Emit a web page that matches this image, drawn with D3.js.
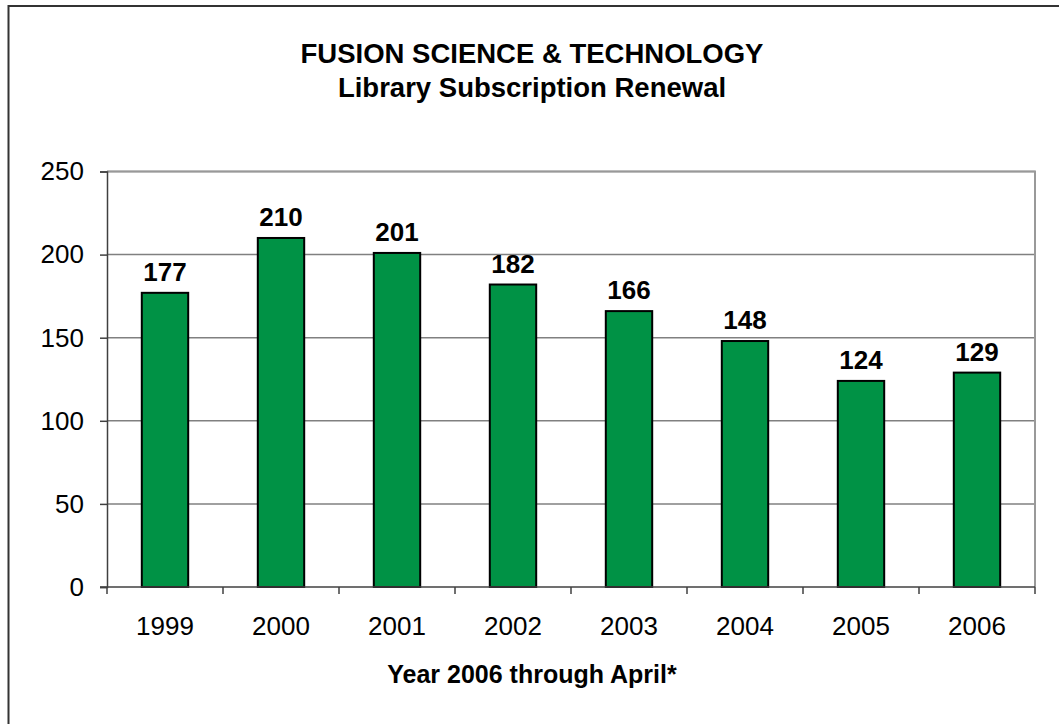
<!DOCTYPE html>
<html>
<head>
<meta charset="utf-8">
<script src="https://cdn.jsdelivr.net/npm/d3@7"></script>
<style>
  body { margin: 0; background: #fff; }
  svg { display: block; font-family: Arial, "Liberation Sans", sans-serif; }
</style>
</head>
<body>
<svg id="chart"></svg>
<script>
// chart data
const years = ["1999", "2000", "2001", "2002", "2003", "2004", "2005", "2006"];
const renewals = [177, 210, 201, 182, 166, 148, 124, 129];
const yTicks = [0, 50, 100, 150, 200, 250];
const titleLines = ["FUSION SCIENCE & TECHNOLOGY", "Library Subscription Renewal"];
const xTitle = "Year 2006 through April*";

const width = 1059;
const height = 724;
const margin = { top: 171.5, right: 24, bottom: 137, left: 107 };

const svg = d3.select('#chart')
    .attr('width', width)
    .attr('height', height);

// outer chart border (only top/left visible in frame)
svg.append('rect')
    .attr('x', 8.5).attr('y', 6)
    .attr('width', width + 20).attr('height', height + 20)
    .attr('fill', 'none')
    .attr('stroke', '#333')
    .attr('stroke-width', 2);

const xBand = d3.scaleBand()
    .domain(years)
    .range([margin.left, width - margin.right]);

const y = d3.scaleLinear()
    .domain([0, 250])
    .range([height - margin.bottom, margin.top]);

// gridlines
svg.append('g')
    .selectAll('line')
    .data(yTicks.filter(d => d > 0))
    .join('line')
    .attr('x1', margin.left)
    .attr('x2', width - margin.right)
    .attr('y1', d => y(d))
    .attr('y2', d => y(d))
    .attr('stroke', '#808080')
    .attr('stroke-width', 1.5);

// right + top border of plot area
svg.append('line')
    .attr('x1', width - margin.right)
    .attr('x2', width - margin.right)
    .attr('y1', y(250))
    .attr('y2', y(0))
    .attr('stroke', '#999')
    .attr('stroke-width', 2);
svg.append('line')
    .attr('x1', margin.left)
    .attr('x2', width - margin.right + 1)
    .attr('y1', y(250))
    .attr('y2', y(250))
    .attr('stroke', '#999')
    .attr('stroke-width', 2);

// bars
svg.append('g')
    .selectAll('rect')
    .data(renewals)
    .join('rect')
    .attr('x', (d, i) => xBand(years[i]) + xBand.bandwidth() * 0.3)
    .attr('width', xBand.bandwidth() * 0.4)
    .attr('y', d => y(d))
    .attr('height', d => y(0) - y(d))
    .attr('fill', '#009245')
    .attr('stroke', '#000')
    .attr('stroke-width', 2);

// value labels
svg.append('g')
    .selectAll('text')
    .data(renewals)
    .join('text')
    .attr('x', (d, i) => xBand(years[i]) + xBand.bandwidth() / 2)
    .attr('y', d => y(d) - 12)
    .attr('text-anchor', 'middle')
    .attr('font-size', 26)
    .attr('font-weight', 'bold')
    .text(d => d);

// y axis
const yAxis = svg.append('g')
    .attr('transform', `translate(${margin.left},0)`)
    .call(d3.axisLeft(y).tickValues(yTicks).tickSize(7).tickPadding(16));
yAxis.select('.domain').attr('stroke', '#404040').attr('stroke-width', 1.5);
yAxis.selectAll('.tick line').attr('stroke', '#404040').attr('stroke-width', 1.5);
yAxis.selectAll('text')
    .attr('font-size', 26)
    .attr('fill', '#000')
    .attr('font-family', 'Arial, "Liberation Sans", sans-serif');

// x axis with boundary ticks
const xAxisG = svg.append('g')
    .attr('transform', `translate(0,${y(0)})`);
xAxisG.append('line')
    .attr('x1', margin.left - 7)
    .attr('x2', width - margin.right)
    .attr('stroke', '#404040')
    .attr('stroke-width', 1.5);
xAxisG.selectAll('line.sep')
    .data(years.map(d => xBand(d)).concat([width - margin.right]))
    .join('line')
    .attr('class', 'sep')
    .attr('x1', d => d).attr('x2', d => d)
    .attr('y1', 0).attr('y2', 7)
    .attr('stroke', '#404040')
    .attr('stroke-width', 1.5);
xAxisG.selectAll('text')
    .data(years)
    .join('text')
    .attr('x', d => xBand(d) + xBand.bandwidth() / 2)
    .attr('y', 48)
    .attr('text-anchor', 'middle')
    .attr('font-size', 26)
    .text(d => d);

// titles
svg.append('g')
    .selectAll('text')
    .data(titleLines)
    .join('text')
    .attr('x', 532)
    .attr('y', (d, i) => 63 + i * 34)
    .attr('text-anchor', 'middle')
    .attr('font-size', 27.5)
    .attr('font-weight', 'bold')
    .text(d => d);

svg.append('text')
    .attr('x', 532)
    .attr('y', 683)
    .attr('text-anchor', 'middle')
    .attr('font-size', 25)
    .attr('font-weight', 'bold')
    .text(xTitle);
</script>
</body>
</html>
